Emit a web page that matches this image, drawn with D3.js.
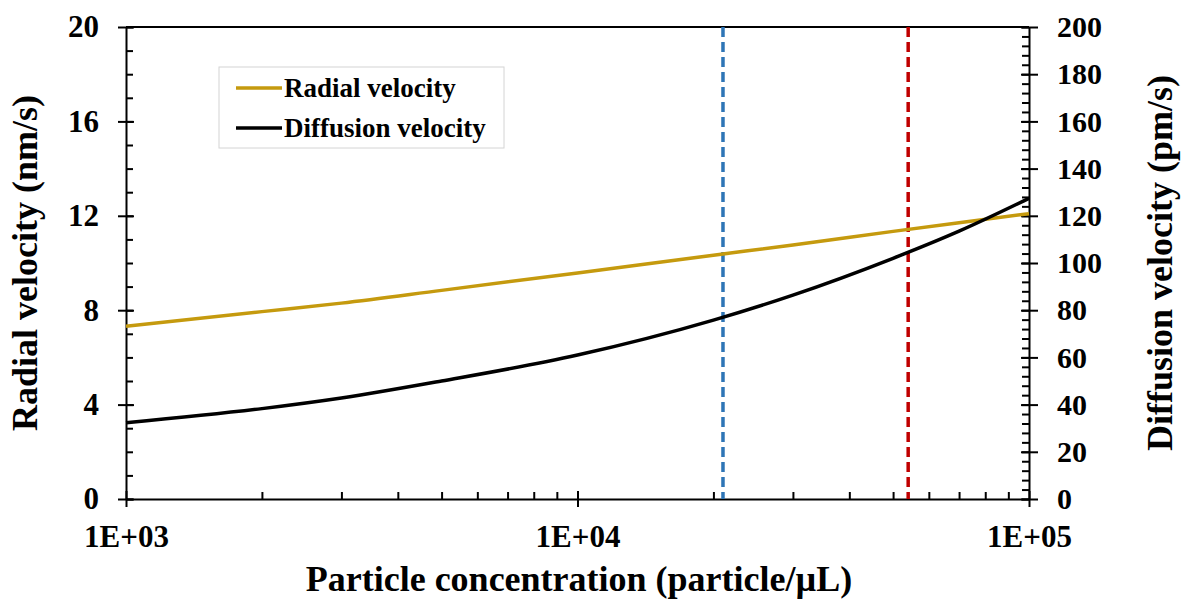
<!DOCTYPE html>
<html>
<head>
<meta charset="utf-8">
<script src="https://cdn.jsdelivr.net/npm/d3@7"></script>
<style>
  body { margin: 0; background: #fff; }
  svg text { font-family: "Liberation Serif", "Times New Roman", serif; font-weight: bold; fill: #000; }
  .axis path, .axis line { stroke: #000; stroke-width: 2; }
</style>
</head>
<body>
<div id="chart"></div>
<script>
// concentrations (particle/uL)
const conc = [1000, 2000, 3000, 5000, 10000, 20000, 30000, 50000, 70000, 100000];
// radial velocity, nm/s (left axis)
const radial = [7.32, 7.94, 8.3, 8.84, 9.58, 10.33, 10.76, 11.34, 11.71, 12.09];
// diffusion velocity, pm/s (right axis)
const diffusion = [32.3, 38.3, 42.8, 50.0, 61.0, 75.8, 86.4, 102.0, 113.5, 127.4];
// vertical markers
const markers = [{x: 21000, color: "#2e75b6"}, {x: 54000, color: "#c00000"}];

const xTicks = [1e3, 1e4, 1e5];
const xTickLabels = ["1E+03", "1E+04", "1E+05"];
const yLeftTicks = [0, 4, 8, 12, 16, 20];
const yRightTicks = [0, 20, 40, 60, 80, 100, 120, 140, 160, 180, 200];

const W = 1182, H = 601;
const pLeft = 126, pRight = 1029, pTop = 27, pBottom = 499;

const svg = d3.select("#chart").append("svg")
  .attr("width", W).attr("height", H);

const x = d3.scaleLog().domain([1e3, 1e5]).range([pLeft, pRight]);
const yL = d3.scaleLinear().domain([0, 20]).range([pBottom, pTop]);
const yR = d3.scaleLinear().domain([0, 200]).range([pBottom, pTop]);

// top border
svg.append("line")
  .attr("x1", pLeft).attr("x2", pRight).attr("y1", pTop).attr("y2", pTop)
  .attr("stroke", "#000").attr("stroke-width", 2);

// minor ticks
const xMinor = [];
[1e3, 1e4].forEach(d => { for (let k = 2; k <= 9; k++) xMinor.push(d * k); });

svg.append("g").attr("class", "axis")
  .attr("transform", `translate(0,${pBottom})`)
  .call(d3.axisBottom(x).tickValues(xMinor).tickSize(-7).tickFormat(""))
  .select(".domain").remove();

svg.append("g").attr("class", "axis")
  .attr("transform", `translate(${pLeft},0)`)
  .call(d3.axisLeft(yL).tickValues(d3.range(0, 21, 1)).tickSize(-7).tickFormat(""))
  .select(".domain").remove();

svg.append("g").attr("class", "axis")
  .attr("transform", `translate(${pRight},0)`)
  .call(d3.axisRight(yR).tickValues(d3.range(0, 201, 4)).tickSize(-7).tickFormat(""))
  .select(".domain").remove();

// major ticks, inner halves
svg.append("g").attr("class", "axis")
  .attr("transform", `translate(0,${pBottom})`)
  .call(d3.axisBottom(x).tickValues(xTicks).tickSize(-8).tickFormat(""))
  .select(".domain").remove();
svg.append("g").attr("class", "axis")
  .attr("transform", `translate(${pLeft},0)`)
  .call(d3.axisLeft(yL).tickValues(yLeftTicks).tickSize(-8).tickFormat(""))
  .select(".domain").remove();
svg.append("g").attr("class", "axis")
  .attr("transform", `translate(${pRight},0)`)
  .call(d3.axisRight(yR).tickValues(yRightTicks).tickSize(-8).tickFormat(""))
  .select(".domain").remove();

// major axes with labels
const xAxis = svg.append("g").attr("class", "axis")
  .attr("transform", `translate(0,${pBottom})`)
  .call(d3.axisBottom(x).tickValues(xTicks).tickSizeInner(8).tickSizeOuter(0)
    .tickPadding(18).tickFormat((d, i) => xTickLabels[i]));
xAxis.selectAll("text").style("font-size", "31px");

const yAxisL = svg.append("g").attr("class", "axis")
  .attr("transform", `translate(${pLeft},0)`)
  .call(d3.axisLeft(yL).tickValues(yLeftTicks).tickSizeInner(8).tickSizeOuter(0).tickPadding(19));
yAxisL.selectAll("text").style("font-size", "31px");

const yAxisR = svg.append("g").attr("class", "axis")
  .attr("transform", `translate(${pRight},0)`)
  .call(d3.axisRight(yR).tickValues(yRightTicks).tickSizeInner(9).tickSizeOuter(0).tickPadding(19));
yAxisR.selectAll("text").style("font-size", "30px");

// dashed markers
svg.append("g").selectAll("line")
  .data(markers)
  .join("line")
  .attr("x1", d => x(d.x)).attr("x2", d => x(d.x))
  .attr("y1", pTop).attr("y2", pBottom)
  .attr("stroke", d => d.color)
  .attr("stroke-width", 3.5)
  .attr("stroke-dasharray", "10,5");

// curves
const pts = conc.map((c, i) => ({c, r: radial[i], d: diffusion[i]}));

svg.append("path").datum(pts)
  .attr("fill", "none").attr("stroke", "#c59a0e").attr("stroke-width", 3.5)
  .attr("d", d3.line().x(d => x(d.c)).y(d => yL(d.r)).curve(d3.curveMonotoneX));

svg.append("path").datum(pts)
  .attr("fill", "none").attr("stroke", "#000").attr("stroke-width", 3.5)
  .attr("d", d3.line().x(d => x(d.c)).y(d => yR(d.d)).curve(d3.curveMonotoneX));

// legend
const legend = svg.append("g");
legend.append("rect")
  .attr("x", 219).attr("y", 67).attr("width", 285).attr("height", 81)
  .attr("fill", "#fff").attr("stroke", "#d4d4d4").attr("stroke-width", 1);
const legItems = [{label: "Radial velocity", color: "#c59a0e"}, {label: "Diffusion velocity", color: "#000"}];
legItems.forEach((d, i) => {
  const cy = 88 + i * 40;
  legend.append("line")
    .attr("x1", 236).attr("x2", 282).attr("y1", cy).attr("y2", cy)
    .attr("stroke", d.color).attr("stroke-width", 3.5);
  legend.append("text")
    .attr("x", 284).attr("y", cy + 9)
    .style("font-size", "27px")
    .text(d.label);
});

// axis titles
svg.append("text")
  .attr("x", 579).attr("y", 591)
  .attr("text-anchor", "middle")
  .style("font-size", "36px")
  .text("Particle concentration (particle/µL)");

svg.append("text")
  .attr("transform", `translate(37,${(pTop + pBottom) / 2}) rotate(-90)`)
  .attr("text-anchor", "middle")
  .style("font-size", "36px")
  .text("Radial velocity (nm/s)");

svg.append("text")
  .attr("transform", `translate(1172,${(pTop + pBottom) / 2}) rotate(-90)`)
  .attr("text-anchor", "middle")
  .style("font-size", "36px")
  .text("Diffusion velocity (pm/s)");
</script>
</body>
</html>
